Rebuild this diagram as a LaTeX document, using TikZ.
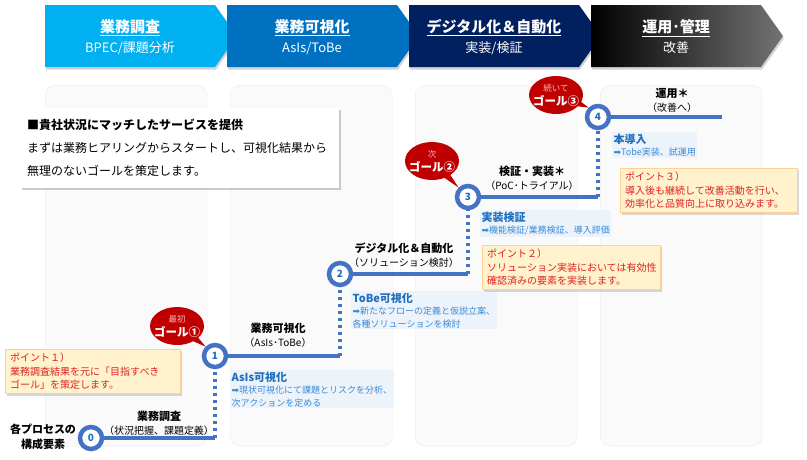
\documentclass[tikz,border=0pt]{standalone}
\usepackage{fontspec}
\setmainfont{Noto Sans CJK JP}
\newfontfamily\symfont{DejaVu Sans}
\usetikzlibrary{arrows.meta, positioning, shapes.geometric, shapes.callouts, shadows}
\definecolor{hdrA}{HTML}{00B0F0}
\definecolor{hdrB}{HTML}{0070C0}
\definecolor{hdrC}{HTML}{002060}
\definecolor{stepblue}{HTML}{4472C4}
\definecolor{notetitle}{HTML}{1F6FBF}
\definecolor{notebody}{HTML}{3A8AD6}
\definecolor{notebg}{HTML}{EDF3FB}
\definecolor{goalred}{HTML}{C00000}
\definecolor{goalpink}{HTML}{F6B8B8}
\definecolor{pointred}{HTML}{E02020}
\definecolor{pointbg}{HTML}{FFF2CC}
\tikzstyle{panel} = [draw=black!8, fill=black!2, rounded corners=10pt,
  minimum width=162pt, minimum height=361pt, anchor=north west]
\tikzstyle{hdr} = [drop shadow={shadow xshift=1pt, shadow yshift=-2.5pt, opacity=.35}]
\tikzstyle{hdrtext} = [text=white, align=center, font=\fontsize{13}{20}\selectfont]
\tikzstyle{infobox} = [fill=white, anchor=north west, text width=305pt, inner xsep=7pt,
  minimum height=80pt, align=left, font=\fontsize{12}{23}\selectfont,
  drop shadow={shadow xshift=2pt, shadow yshift=-2pt, opacity=.4}]
\tikzstyle{stepdot} = [circle, draw=stepblue, line width=4.5pt, fill=white,
  minimum size=22pt, inner sep=0pt, text=notetitle, font=\bfseries\fontsize{10}{10}\selectfont]
\tikzstyle{runline} = [stepblue, line width=4pt]
\tikzstyle{dotline} = [stepblue, line width=4pt, dash pattern=on 3.5pt off 3.5pt]
\tikzstyle{stagelabel} = [align=center, inner sep=1pt, font=\fontsize{10}{14}\selectfont]
\tikzstyle{note} = [fill=notebg, anchor=north west, align=left, inner sep=1.5pt,
  text=notebody, font=\fontsize{9}{12.5}\selectfont]
\tikzstyle{pointbox} = [draw=pointbg!70!orange, fill=pointbg, anchor=north west,
  align=left, inner xsep=5pt, inner ysep=4pt, text=pointred,
  font=\fontsize{10}{13.5}\selectfont,
  drop shadow={shadow xshift=2pt, shadow yshift=-2pt, opacity=.3}]
\tikzstyle{goal} = [ellipse callout, fill=goalred, minimum width=54pt,
  minimum height=38pt, inner sep=0pt]
\tikzstyle{goaltext} = [text=white, align=center, inner sep=0pt,
  font=\bfseries\fontsize{11.5}{14}\selectfont]
\newcommand{\ntitle}[1]{{\color{notetitle}\bfseries\fontsize{11}{13}\selectfont #1}}
\newcommand{\stitle}[1]{{\bfseries\fontsize{11}{13}\selectfont #1}}

\begin{document}
\begin{tikzpicture}[x=1pt, y=-1pt]
  \useasboundingbox (0,0) rectangle (807,459);
  % background columns
  \node[panel] (pnl1) at (45,85) {};
  \node[panel] (pnl2) at (230,85) {};
  \node[panel] (pnl3) at (415,85) {};
  \node[panel] (pnl4) at (600,85) {};

  % header chevrons
  \path[hdr, fill=hdrA] (45,5) -- (215,5) -- (237,36) -- (215,67) -- (45,67) -- cycle;
  \path[hdr, fill=hdrB] (227,5) -- (397,5) -- (419,36) -- (397,67) -- (227,67) -- cycle;
  \path[hdr, fill=hdrC] (409,5) -- (579,5) -- (601,36) -- (579,67) -- (409,67) -- cycle;
  \path[hdr, left color=black, right color=black!55] (591,5) -- (761,5) -- (783,36) -- (761,67) -- (591,67) -- cycle;
  \node[hdrtext] (hdr1) at (130,37) {{\bfseries\fontsize{15}{20}\selectfont\underline{業務調査}}\\BPEC/課題分析};
  \node[hdrtext] (hdr2) at (312,37) {{\bfseries\fontsize{15}{20}\selectfont\underline{業務可視化}}\\AsIs/ToBe};
  \node[hdrtext] (hdr3) at (494,37) {{\bfseries\fontsize{15}{20}\selectfont\underline{デジタル化＆自動化}}\\実装/検証};
  \node[hdrtext] (hdr4) at (676,37) {{\bfseries\fontsize{15}{20}\selectfont\underline{運用･管理}}\\改善};

  \node[infobox] (intro) at (20,108) {{\bfseries ■貴社状況にマッチしたサービスを提供}\\
    まずは業務ヒアリングからスタートし、可視化結果から\\無理のないゴールを策定します。};

  % steps
  \node[stepdot] (c0) at (91,438) {0};
  \node[stepdot] (c1) at (215,356) {1};
  \node[stepdot] (c2) at (340,274) {2};
  \node[stepdot] (c3) at (468,197) {3};
  \node[stepdot] (c4) at (598,117) {4};
  \coordinate (c5) at (722,117);
  \draw[runline] (c0) -- (c0 -| c1);
  \draw[dotline] (c0 -| c1) -- (c1);
  \draw[runline] (c1) -- (c1 -| c2);
  \draw[dotline] (c1 -| c2) -- (c2);
  \draw[runline] (c2) -- (c2 -| c3);
  \draw[dotline] (c2 -| c3) -- (c3);
  \draw[runline] (c3) -- (c3 -| c4);
  \draw[dotline] (c3 -| c4) -- (c4);
  \draw[runline] (c4) -- (c5);

  \node[stagelabel] (s0) at (159,423) {\stitle{業務調査}\\（状況把握、課題定義）};
  \node[stagelabel] (s1) at (278,335) {\stitle{業務可視化}\\（AsIs･ToBe）};
  \node[stagelabel] (s2) at (404,255) {\stitle{デジタル化＆自動化}\\（ソリューション検討）};
  \node[stagelabel] (s3) at (532,178) {\stitle{検証・実装＊}\\（PoC･トライアル）};
  \node[stagelabel] (s4) at (672,100) {\stitle{運用＊}\\（改善へ）};
  \node[stagelabel, font=\bfseries\fontsize{11}{15}\selectfont] (parts) at (43,437) {各プロセスの\\構成要素};

  \node[note] (n1) at (230,370) {\ntitle{AsIs可視化}\\{\symfont ➡}現状可視化にて課題とリスクを分析、\\次アクションを定める};
  \node[note] (n2) at (351,291) {\ntitle{ToBe可視化}\\{\symfont ➡}新たなフローの定義と仮説立案、\\各種ソリューションを検討};
  \node[note] (n3) at (480,210) {\ntitle{実装検証}\\{\symfont ➡}機能検証/業務検証、導入評価};
  \node[note] (n4) at (612,132) {\ntitle{本導入}\\{\symfont ➡}Tobe実装、試運用};

  \node[pointbox, text width=165pt] (p1) at (5,349) {ポイント１）\\業務調査結果を元に「目指すべき\\ゴール」を策定します。};
  \node[pointbox, text width=168pt] (p2) at (482,245) {ポイント２）\\ソリューション実装においては有効性\\確認済みの要素を実装します。};
  \node[pointbox, text width=167pt] (p3) at (620,168) {ポイント３）\\導入後も継続して改善活動を行い、\\効率化と品質向上に取り込みます。};

  \node[goal, callout absolute pointer={(c1.north west)}] (g1) at (177,326) {};
  \node[goaltext] (g1t) at (g1.center) {{\mdseries\fontsize{8.5}{10}\selectfont\color{goalpink}最初}\\ゴール①};
  \node[goal, callout absolute pointer={(c3.north west)}] (g2) at (432,161) {};
  \node[goaltext] (g2t) at (g2.center) {{\mdseries\fontsize{8.5}{10}\selectfont\color{goalpink}次}\\ゴール②};
  \node[goal, callout absolute pointer={(c4.north west)}] (g3) at (556,95) {};
  \node[goaltext] (g3t) at (g3.center) {{\mdseries\fontsize{8.5}{10}\selectfont\color{goalpink}続いて}\\ゴール③};
\end{tikzpicture}
\end{document}
